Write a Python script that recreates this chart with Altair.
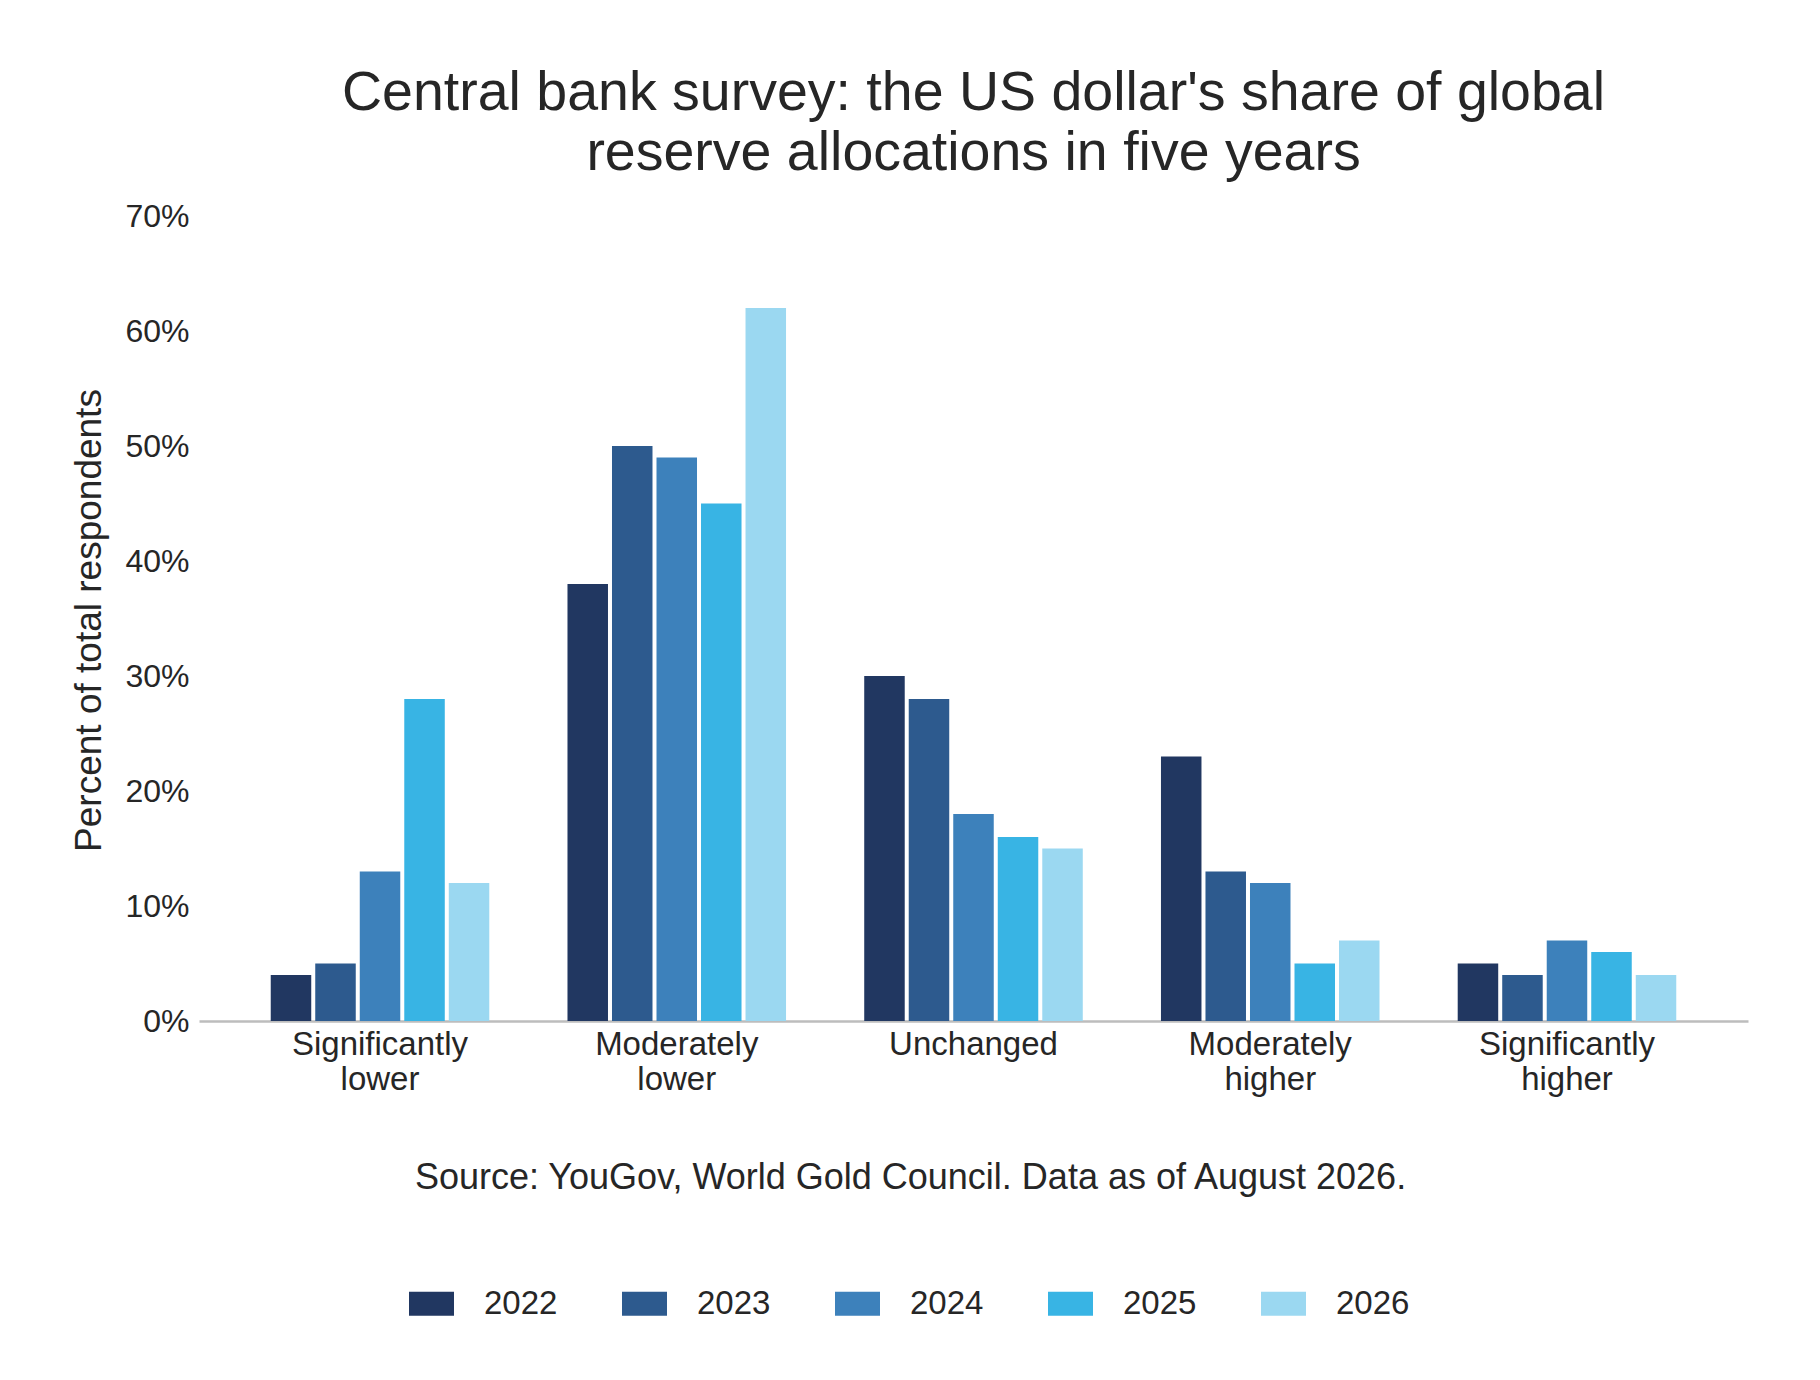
import altair as alt
import pandas as pd

categories = [
    "Significantly lower",
    "Moderately lower",
    "Unchanged",
    "Moderately higher",
    "Significantly higher",
]
years = ["2022", "2023", "2024", "2025", "2026"]
share_2022 = [4, 38, 30, 23, 5]
share_2023 = [5, 50, 28, 13, 4]
share_2024 = [13, 49, 18, 12, 7]
share_2025 = [28, 45, 16, 5, 6]
share_2026 = [12, 62, 15, 7, 4]
year_colors = ["#213761", "#2d5a8e", "#3d81bb", "#38b4e4", "#9bd8f1"]

FONT = "Liberation Sans"
INK = "#262626"

series = [share_2022, share_2023, share_2024, share_2025, share_2026]
rows = []
for year, values in zip(years, series):
    for cat, val in zip(categories, values):
        rows.append({"category": cat, "year": year, "share": val})
df = pd.DataFrame(rows)

chart = (
    alt.Chart(df)
    .mark_bar()
    .encode(
        x=alt.X(
            "category:N",
            sort=categories,
            scale=alt.Scale(paddingInner=0.25, paddingOuter=0.235),
            axis=alt.Axis(
                title="Source: YouGov, World Gold Council. Data as of August 2026.",
                titleX=711,
                titleY=167,
                titleAlign="center",
                titleBaseline="alphabetic",
                titleFontSize=36,
                titleFontWeight="normal",
                labelExpr="split(datum.label, ' ')",
                labelAngle=0,
                labelFontSize=33,
                labelLineHeight=35,
                labelPadding=7,
                ticks=False,
                domainColor="#bdbdbd",
                domainWidth=2.5,
            ),
        ),
        xOffset=alt.XOffset(
            "year:N",
            sort=years,
            scale=alt.Scale(paddingInner=0.09, paddingOuter=0.045),
        ),
        y=alt.Y(
            "share:Q",
            scale=alt.Scale(domain=[0, 70]),
            axis=alt.Axis(
                title="Percent of total respondents",
                titleX=-99,
                titleY=404,
                titleAngle=-90,
                titleAlign="center",
                titleBaseline="alphabetic",
                titleFontSize=37,
                titleFontWeight="normal",
                values=[0, 10, 20, 30, 40, 50, 60, 70],
                labelExpr="datum.value + '%'",
                labelFontSize=32,
                labelPadding=10,
                ticks=False,
                domain=False,
                grid=False,
            ),
        ),
        color=alt.Color(
            "year:N",
            scale=alt.Scale(domain=years, range=year_colors),
            legend=alt.Legend(
                title=None,
                orient="none",
                direction="horizontal",
                columns=5,
                legendX=210,
                legendY=1065,
                padding=0,
                columnPadding=64,
                labelOffset=30,
                labelFontSize=33,
                symbolType="M-1,-0.533H1V0.533H-1Z",
                symbolSize=2025,
                symbolStrokeWidth=0,
                symbolOpacity=1,
            ),
        ),
    )
    .properties(
        width=1549,
        height=805,
        title=alt.TitleParams(
            text=[
                "Central bank survey: the US dollar's share of global",
                "reserve allocations in five years",
            ],
            fontSize=55.5,
            fontWeight="normal",
            lineHeight=60,
            anchor="middle",
            frame="group",
            offset=19,
        ),
        autosize=alt.AutoSizeParams(type="none"),
        padding={"left": 191, "top": 208, "right": 62, "bottom": 345},
    )
    .configure(font=FONT)
    .configure_view(stroke=None)
    .configure_axis(labelColor=INK, titleColor=INK, labelFont=FONT, titleFont=FONT)
    .configure_legend(labelColor=INK, labelFont=FONT)
    .configure_title(color=INK, font=FONT)
)

chart.save("out.html", embed_options={"renderer": "svg", "actions": False})
